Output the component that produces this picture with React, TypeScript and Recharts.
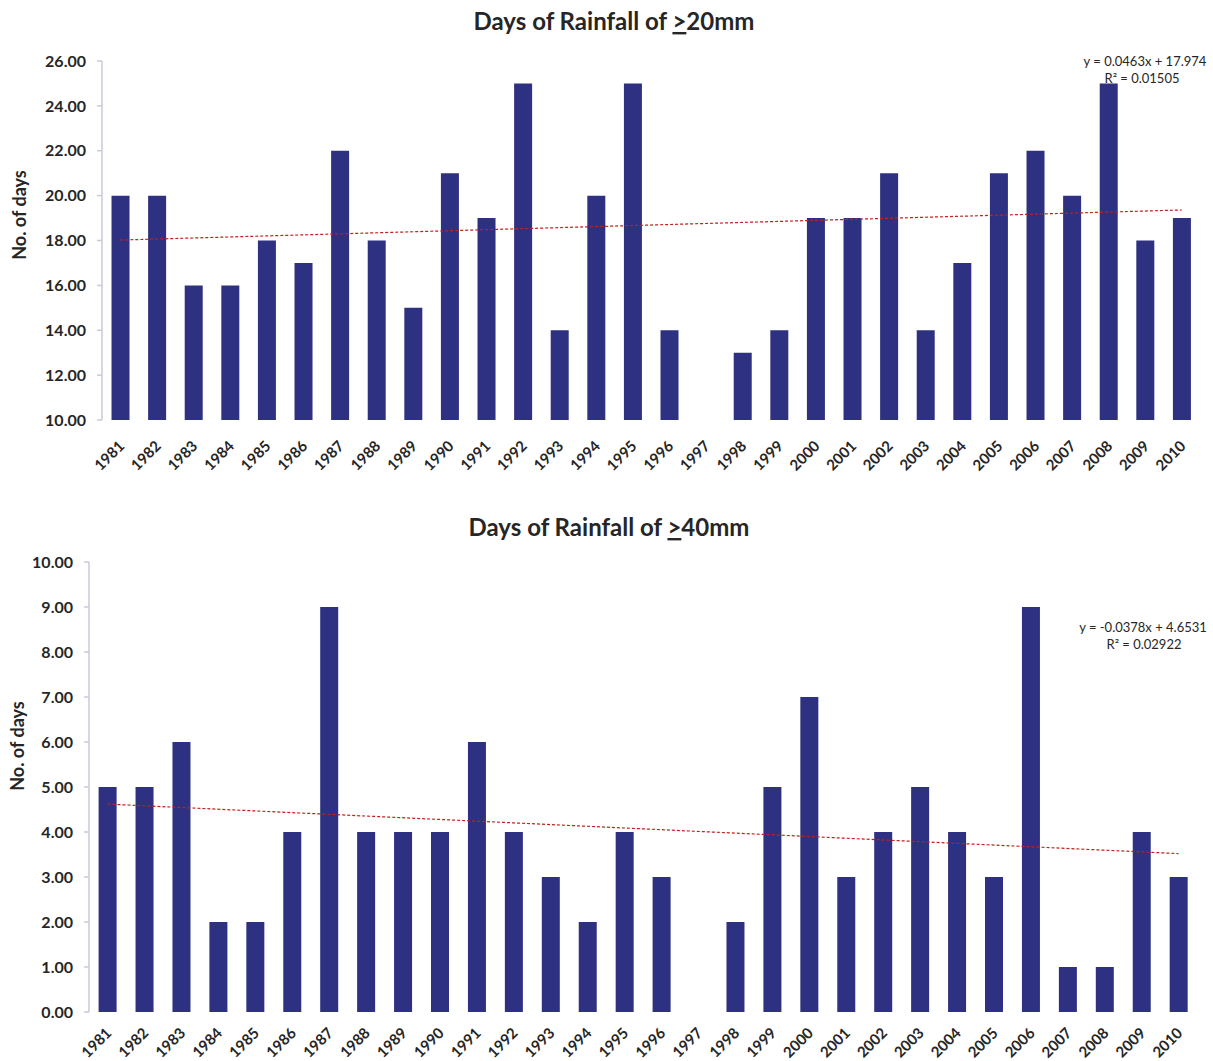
import React from 'react';
import { ComposedChart, Bar, Line, XAxis, YAxis } from 'recharts';

const years = [
  '1981', '1982', '1983', '1984', '1985', '1986', '1987', '1988', '1989', '1990',
  '1991', '1992', '1993', '1994', '1995', '1996', '1997', '1998', '1999', '2000',
  '2001', '2002', '2003', '2004', '2005', '2006', '2007', '2008', '2009', '2010',
];

const days20: (number | null)[] = [
  20, 20, 16, 16, 18, 17, 22, 18, 15, 21,
  19, 25, 14, 20, 25, 14, null, 13, 14, 19,
  19, 21, 14, 17, 21, 22, 20, 25, 18, 19,
];

const days40: (number | null)[] = [
  5, 5, 6, 2, 2, 4, 9, 4, 4, 4,
  6, 4, 3, 2, 4, 3, 0, 2, 5, 7,
  3, 4, 5, 4, 3, 9, 1, 1, 4, 3,
];

// trend line end points (first and last year)
const trend20 = [18.02, 19.36];
const trend40 = [4.62, 3.52];

const yTicks20 = [10, 12, 14, 16, 18, 20, 22, 24, 26];
const yTicks40 = [0, 1, 2, 3, 4, 5, 6, 7, 8, 9, 10];
const boundaryTicks = Array.from({ length: years.length + 1 }, (_, i) => i);

const title20 = 'Days of Rainfall of ';
const title40 = 'Days of Rainfall of ';
const eq20 = ['y = 0.0463x + 17.974', 'R² = 0.01505'];
const eq40 = ['y = -0.0378x + 4.6531', 'R² = 0.02922'];

const FONT = 'Lato, "Open Sans", sans-serif';
const TEXT = '#262626';
const BAR = '#2e3081';
const TREND = '#c4201c';
const XLINE = '#a6a6a6';
const YLINE = '#c7cbdb';

function buildRows(values: (number | null)[], trend: number[]) {
  return years.map((y, i) => ({
    year: y,
    value: values[i],
    trend: i === 0 ? trend[0] : i === years.length - 1 ? trend[1] : null,
  }));
}

const rows20 = buildRows(days20, trend20);
const rows40 = buildRows(days40, trend40);

function YearTick(props: any) {
  const { x, y, payload, drop } = props;
  const ax = x + 5;
  const ay = y + drop;
  return (
    <text
      x={ax}
      y={ay}
      transform={`rotate(-45, ${ax}, ${ay})`}
      textAnchor="end"
      fontFamily={FONT}
      fontWeight={700}
      fontSize={15}
      fill={TEXT}
    >
      {payload.value}
    </text>
  );
}

function RainChart(props: {
  data: any[];
  domain: [number, number];
  ticks: number[];
  height: number;
  margin: { top: number; right: number; bottom: number; left: number };
  yWidth: number;
  catHeight: number;
  drop: number;
}) {
  const { data, domain, ticks, height, margin, yWidth, catHeight, drop } = props;
  return (
    <ComposedChart width={1213} height={height} data={data} margin={margin} barCategoryGap="26%">
      <XAxis
        xAxisId="a"
        type="number"
        domain={[0, years.length]}
        ticks={boundaryTicks}
        allowDataOverflow
        interval={0}
        height={0}
        tick={false}
        tickSize={5}
        axisLine={{ stroke: XLINE, strokeWidth: 1.5 }}
        tickLine={{ stroke: XLINE, strokeWidth: 1.5 }}
      />
      <XAxis
        xAxisId="b"
        dataKey="year"
        interval={0}
        height={catHeight}
        axisLine={false}
        tickLine={false}
        tickSize={0}
        tickMargin={0}
        tick={<YearTick drop={drop} />}
      />
      <YAxis
        width={yWidth}
        domain={domain}
        ticks={ticks}
        allowDataOverflow
        interval={0}
        tickFormatter={(v: number) => v.toFixed(2)}
        tickSize={5}
        tickMargin={11}
        axisLine={{ stroke: YLINE, strokeWidth: 1.5 }}
        tickLine={{ stroke: YLINE, strokeWidth: 1.5 }}
        tick={{ fontFamily: FONT, fontWeight: 700, fontSize: 16, fill: TEXT }}
      />
      <Bar xAxisId="b" dataKey="value" fill={BAR} isAnimationActive={false} />
      <Line
        xAxisId="b"
        dataKey="trend"
        stroke={TREND}
        strokeWidth={1.2}
        strokeDasharray="3 2"
        dot={false}
        activeDot={false}
        connectNulls
        isAnimationActive={false}
      />
    </ComposedChart>
  );
}

export default function App() {
  return (
    <div style={{ position: 'absolute', left: 0, top: 0, width: 1213, height: 1061, background: '#fff', overflow: 'hidden' }}>
      <svg width={1213} height={1061} style={{ position: 'absolute', left: 0, top: 0 }}>
        <text x={614} y={30} textAnchor="middle" fontFamily={FONT} fontWeight={700} fontSize={24} fill={TEXT}>
          {title20}
          <tspan textDecoration="underline">&gt;</tspan>
          20mm
        </text>
        <text x={609} y={536} textAnchor="middle" fontFamily={FONT} fontWeight={700} fontSize={24} fill={TEXT}>
          {title40}
          <tspan textDecoration="underline">&gt;</tspan>
          40mm
        </text>
        <text x={19} y={215} transform="rotate(-90, 19, 215)" textAnchor="middle" dominantBaseline="central" fontFamily={FONT} fontWeight={700} fontSize={18} fill={TEXT}>
          No. of days
        </text>
        <text x={17} y={746} transform="rotate(-90, 17, 746)" textAnchor="middle" dominantBaseline="central" fontFamily={FONT} fontWeight={700} fontSize={18} fill={TEXT}>
          No. of days
        </text>
        <text x={1145} y={66} textAnchor="middle" fontFamily={FONT} fontSize={13} fill={TEXT}>{eq20[0]}</text>
        <text x={1142} y={83} textAnchor="middle" fontFamily={FONT} fontSize={13} fill={TEXT}>{eq20[1]}</text>
        <text x={1143} y={632} textAnchor="middle" fontFamily={FONT} fontSize={13} fill={TEXT}>{eq40[0]}</text>
        <text x={1144} y={649} textAnchor="middle" fontFamily={FONT} fontSize={13} fill={TEXT}>{eq40[1]}</text>
      </svg>
      <div style={{ position: 'absolute', left: 0, top: 0 }}>
        <RainChart
          data={rows20}
          domain={[10, 26]}
          ticks={yTicks20}
          height={490}
          margin={{ top: 61, right: 13, bottom: 10, left: 0 }}
          yWidth={102}
          catHeight={60}
          drop={27}
        />
      </div>
      <div style={{ position: 'absolute', left: 0, top: 490 }}>
        <RainChart
          data={rows40}
          domain={[0, 10]}
          ticks={yTicks40}
          height={571}
          margin={{ top: 72, right: 16, bottom: 0, left: 0 }}
          yWidth={89}
          catHeight={49}
          drop={22}
        />
      </div>
    </div>
  );
}
